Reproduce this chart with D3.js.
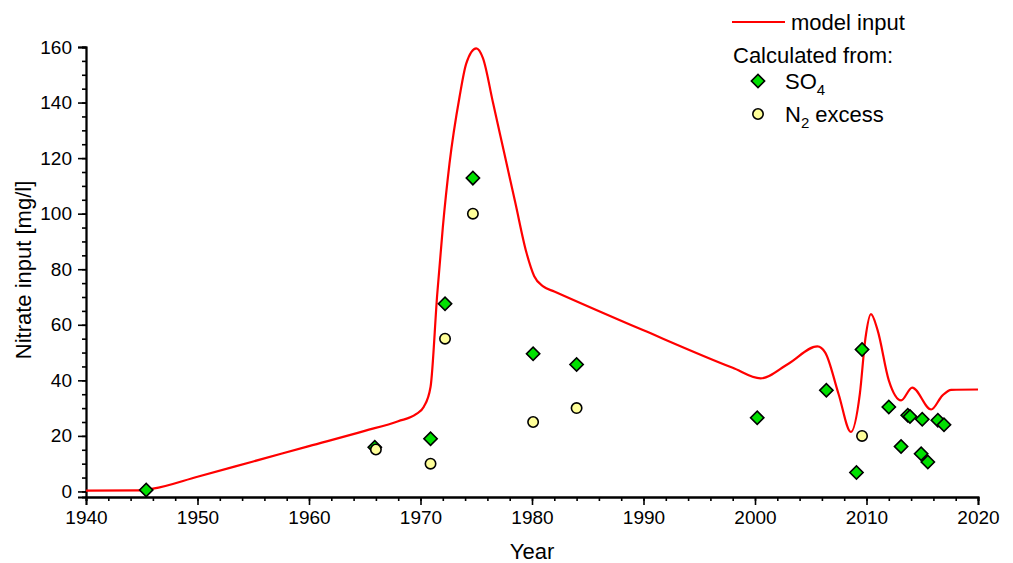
<!DOCTYPE html>
<html><head><meta charset="utf-8">
<script src="https://cdn.jsdelivr.net/npm/d3@7"></script>
<style>
body{margin:0;background:#fff;}
text{font-family:"Liberation Sans",Arial,sans-serif;fill:#000;}
</style></head>
<body><svg id="c" width="1013" height="563"></svg>
<script>
// model input curve
const modelYears = [1940,1944.8,1946,1950,1955,1960,1965,1968,1969.6,1970.3,1970.9,1971.5,1972.0,1972.6,1973.5,1974.1,1975.0,1975.6,1976.5,1977.5,1978.5,1979.5,1980.2,1981,1982,1990,1998,2000.5,2003,2005.6,2006.3,2007.5,2008.6,2009.4,2009.9,2010.4,2011,2012,2013.1,2014.1,2015.8,2016.8,2017.6,2020];
const modelValues = [0.3,0.4,1.0,5.3,10.8,16.3,21.8,25.3,27.8,30.5,37.6,71,95,118,142,154,159.5,156,140,122,104,86,77.5,73.8,72,58,44.5,40.7,46,52.2,50,35,21.4,35,55,63.8,58,40,32.8,37.4,29.5,34.5,36.6,36.7];
// calculated from SO4
const so4Years = [1945.4,1965.9,1970.9,1972.2,1974.7,1980.1,1984.0,2000.2,2006.4,2009.1,2009.6,2012.0,2013.1,2013.7,2013.9,2014.9,2015.0,2015.5,2016.4,2016.95];
const so4Values = [0.5,15.9,19.0,67.6,112.8,49.6,45.7,26.5,36.4,6.8,51.1,30.4,16.2,27.4,27.0,13.6,26.0,10.6,25.6,24.0];
// calculated from N2 excess
const n2Years = [1966.0,1970.9,1972.2,1974.7,1980.1,1984.0,2009.6];
const n2Values = [15.1,10.0,55.0,100.0,25.0,30.0,20.0];
// ticks
const xTicks = [1940,1950,1960,1970,1980,1990,2000,2010,2020];
const yTicks = [0,20,40,60,80,100,120,140,160];

const svg = d3.select("#c");
const x = d3.scaleLinear().domain([1940,2020]).range([86,978]);
const y = d3.scaleLinear().domain([-2,160]).range([497,47]);

// axes
const gx = svg.append("g").attr("transform","translate(0,497)");
const xMinor = d3.range(1940,2021,2);
gx.call(d3.axisBottom(x).tickValues(xMinor).tickSize(4).tickFormat(""));
gx.append("g").call(d3.axisBottom(x).tickValues(xTicks).tickSize(8).tickFormat(d3.format("d")).tickPadding(6));
gx.selectAll("path.domain").attr("stroke","#000").attr("stroke-width",1.8);
gx.selectAll("line").attr("stroke","#000").attr("stroke-width",1.6);
gx.selectAll("text").style("font-size","19px").attr("font-family","Liberation Sans, Arial, sans-serif");

const gy = svg.append("g").attr("transform","translate(86,0)");
const yMinor = d3.range(0,161,5);
gy.call(d3.axisLeft(y).tickValues(yMinor).tickSize(4).tickFormat(""));
gy.append("g").call(d3.axisLeft(y).tickValues(yTicks).tickSize(8).tickFormat(d3.format("d")).tickPadding(6));
gy.selectAll("path.domain").attr("stroke","#000").attr("stroke-width",1.8);
gy.selectAll("line").attr("stroke","#000").attr("stroke-width",1.6);
gy.selectAll("text").style("font-size","19px").attr("font-family","Liberation Sans, Arial, sans-serif");

// axis titles
svg.append("text").attr("x",532).attr("y",559).attr("text-anchor","middle").style("font-size","22px").text("Year");
svg.append("text").attr("transform","translate(31,270) rotate(-90)").attr("text-anchor","middle").style("font-size","22px").text("Nitrate input [mg/l]");

// model line
const model = modelYears.map((d,i)=>[d,modelValues[i]]);
svg.append("path").datum(model)
  .attr("fill","none").attr("stroke","#ff0000").attr("stroke-width",2.2)
  .attr("d", d3.line().x(d=>x(d[0])).y(d=>y(d[1])).curve(d3.curveMonotoneX));

const n2 = n2Years.map((d,i)=>[d,n2Values[i]]);
const so4 = so4Years.map((d,i)=>[d,so4Values[i]]);
const diamond = d3.symbol().type(d3.symbolSquare).size(88);

// SO4 diamonds
svg.append("g").selectAll("path").data(so4).join("path")
  .attr("d",diamond)
  .attr("transform",d=>`translate(${x(d[0])},${y(d[1])}) rotate(45)`)
  .attr("fill","#00e000").attr("stroke","#000").attr("stroke-width",1.6);

// N2 circles
svg.append("g").selectAll("circle").data(n2).join("circle")
  .attr("cx",d=>x(d[0])).attr("cy",d=>y(d[1])).attr("r",5.2)
  .attr("fill","#ffff99").attr("stroke","#000").attr("stroke-width",1.6);

// legend
const lg = svg.append("g");
lg.append("line").attr("x1",732).attr("x2",785).attr("y1",22).attr("y2",22).attr("stroke","#ff0000").attr("stroke-width",2.2);
lg.append("text").attr("x",791).attr("y",30).style("font-size","22px").text("model input");
lg.append("text").attr("x",733).attr("y",63).style("font-size","22px").text("Calculated from:");
lg.append("path").attr("d",diamond).attr("transform","translate(758,81) rotate(45)")
  .attr("fill","#00e000").attr("stroke","#000").attr("stroke-width",1.6);
const t1 = lg.append("text").attr("x",785).attr("y",89).style("font-size","22px");
t1.append("tspan").text("SO");
t1.append("tspan").attr("dy",6).style("font-size","15px").text("4");
lg.append("circle").attr("cx",758).attr("cy",114).attr("r",5.2).attr("fill","#ffff99").attr("stroke","#000").attr("stroke-width",1.6);
const t2 = lg.append("text").attr("x",785).attr("y",122).style("font-size","22px");
t2.append("tspan").text("N");
t2.append("tspan").attr("dy",6).style("font-size","15px").text("2");
t2.append("tspan").attr("dy",-6).text(" excess");
</script></body></html>
